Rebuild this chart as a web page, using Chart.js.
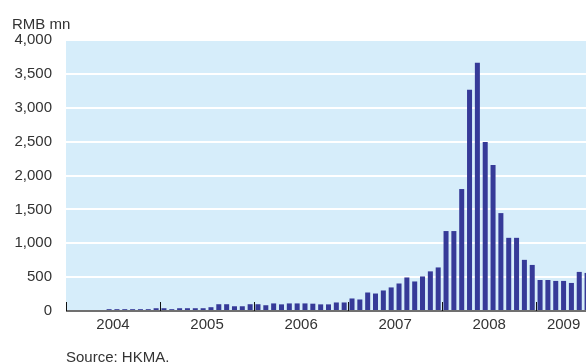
<!DOCTYPE html>
<html>
<head>
<meta charset="utf-8">
<script src="https://cdn.jsdelivr.net/npm/chart.js@4/dist/chart.umd.min.js"></script>
<style>
  html, body { margin: 0; padding: 0; background: #fff; overflow: hidden; }
  body { width: 586px; height: 363px; position: relative; font-family: "Liberation Sans", Arial, sans-serif; color: #333; }
  #wrap { position: absolute; left: 0; top: 0; width: 591px; height: 363px; }
  .note { position: absolute; font-size: 15px; line-height: 15px; white-space: nowrap; }
</style>
</head>
<body>
<div id="wrap"><canvas id="rmbChart"></canvas></div>
<div class="note" style="left:12px; top:16px;">RMB mn</div>
<div class="note" style="left:66px; top:349px;">Source: HKMA.</div>
<script>
// tick labels
const years = ['2004', '2005', '2006', '2007', '2008', '2009'];
const yTicks = [0, 500, 1000, 1500, 2000, 2500, 3000, 3500, 4000];

// monthly values, RMB mn
const v2004 = [0, 10, 15, 15, 15, 27, 27, 27, 27, 27, 27, 41];
const v2005 = [41, 27, 41, 41, 41, 41, 56, 100, 100, 70, 70, 100];
const v2006 = [100, 85, 112, 98, 112, 112, 112, 108, 98, 98, 126, 126];
const v2007 = [185, 170, 273, 258, 303, 348, 406, 495, 436, 510, 585, 643];
const v2008 = [1180, 1180, 1800, 3265, 3665, 2495, 2155, 1445, 1080, 1080, 755, 680];
const v2009 = [458, 458, 444, 444, 414, 577, 562];

const seriesByYear = [v2004, v2005, v2006, v2007, v2008, v2009];

// build month categories + flat values
const months = [];
const values = [];
seriesByYear.forEach((arr, i) => {
  arr.forEach((val, m) => {
    months.push(years[i] + '-' + String(m + 1).padStart(2, '0'));
    values.push(val);
  });
});

const plotBg = '#d6edfa';
const barColor = '#363a98';

// background + year ticks/labels + baseline
const chartDecor = {
  id: 'chartDecor',
  beforeDraw(chart) {
    const { ctx, chartArea: a } = chart;
    ctx.save();
    ctx.fillStyle = plotBg;
    ctx.fillRect(a.left, a.top, a.right - a.left, a.bottom - a.top);
    ctx.restore();
  },
  afterDatasetsDraw(chart) {
    const { ctx, chartArea: a } = chart;
    const x = chart.scales.x;
    const step = x.getPixelForValue(1) - x.getPixelForValue(0);

    ctx.save();
    // baseline
    ctx.strokeStyle = '#707070';
    ctx.lineWidth = 2;
    ctx.beginPath();
    ctx.moveTo(a.left, a.bottom);
    ctx.lineTo(a.right, a.bottom);
    ctx.stroke();

    // year separators + labels
    ctx.font = '15px "Liberation Sans", Arial, sans-serif';
    ctx.fillStyle = '#333';
    ctx.textAlign = 'center';
    ctx.textBaseline = 'top';
    let idx = 0;
    seriesByYear.forEach((arr, i) => {
      const start = x.getPixelForValue(idx) - step / 2;
      const end = x.getPixelForValue(idx + arr.length - 1) + step / 2;
      ctx.strokeStyle = '#111';
      ctx.lineWidth = 1;
      ctx.beginPath();
      ctx.moveTo(Math.round(start) + 0.5, a.bottom - 9);
      ctx.lineTo(Math.round(start) + 0.5, a.bottom);
      ctx.stroke();
      ctx.fillText(years[i], (start + end) / 2, a.bottom + 6);
      idx += arr.length;
    });
    ctx.restore();
  }
};

const ctx = document.getElementById('rmbChart').getContext('2d');
new Chart(ctx, {
  type: 'bar',
  data: {
    labels: months,
    datasets: [{
      data: values,
      backgroundColor: barColor,
      borderWidth: 0,
      categoryPercentage: 1,
      barPercentage: 0.64
    }]
  },
  options: {
    responsive: true,
    maintainAspectRatio: false,
    animation: false,
    layout: { padding: { top: 40, bottom: 52, left: 0, right: 0 } },
    plugins: {
      legend: { display: false },
      tooltip: { enabled: false }
    },
    scales: {
      x: {
        display: false
      },
      y: {
        min: 0,
        max: 4000,
        afterFit(scale) { scale.width = 66; },
        afterBuildTicks(scale) { scale.ticks = yTicks.map(v => ({ value: v })); },
        border: { display: false },
        grid: {
          color: ctx => (ctx.tick && ctx.tick.value > 0 ? '#ffffff' : 'rgba(0,0,0,0)'),
          lineWidth: 2,
          drawTicks: false
        },
        ticks: {
          padding: 14,
          color: '#333',
          font: { family: '"Liberation Sans", Arial, sans-serif', size: 15 },
          callback: v => v.toLocaleString('en-US')
        }
      }
    }
  },
  plugins: [chartDecor]
});
</script>
</body>
</html>
